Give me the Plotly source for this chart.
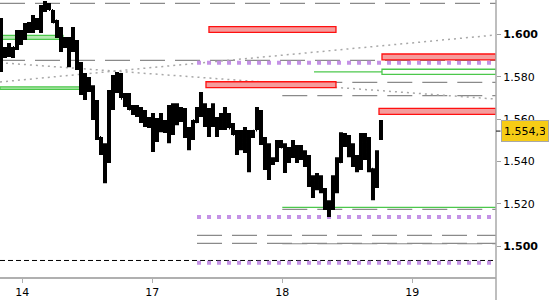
import plotly.graph_objects as go

# ---------------- data ----------------
# intraday bars on a regular session grid (day units, 14 -> 0, 17 -> 1, 18 -> 2, 19 -> 3)
BARS_PER_DAY = 32.5
FIRST_BAR = -0.1638

highs = [1.6077, 1.5940, 1.5959, 1.5940, 1.6020, 1.6020, 1.6053, 1.6058, 1.6091, 1.6077,
         1.6138, 1.6157, 1.6148, 1.6115, 1.6068, 1.6034, 1.5987, 1.5987, 1.6034, 1.5973,
         1.5869, 1.5817, 1.5798, 1.5760, 1.5690, 1.5515, 1.5486, 1.5737, 1.5808, 1.5822,
         1.5817, 1.5723, 1.5723, 1.5666, 1.5666, 1.5657, 1.5642, 1.5609, 1.5628, 1.5605,
         1.5628, 1.5595, 1.5666, 1.5675, 1.5675, 1.5657, 1.5652, 1.5562, 1.5595, 1.5657,
         1.5727, 1.5675, 1.5652, 1.5675, 1.5609, 1.5628, 1.5657, 1.5628, 1.5581, 1.5548,
         1.5548, 1.5562, 1.5548, 1.5548, 1.5657, 1.5642, 1.5515, 1.5486, 1.5420, 1.5501,
         1.5501, 1.5486, 1.5468, 1.5501, 1.5477, 1.5477, 1.5453, 1.5430, 1.5335, 1.5345,
         1.5335, 1.5274, 1.5217, 1.5335, 1.5420, 1.5538, 1.5534, 1.5524, 1.5486, 1.5430,
         1.5534, 1.5534, 1.5515, 1.5368, 1.5453, 1.5595]
lows = [1.5822, 1.5888, 1.5893, 1.5888, 1.5926, 1.5949, 1.5973, 1.6006, 1.6006, 1.6020,
        1.6006, 1.6105, 1.6115, 1.6053, 1.5982, 1.5916, 1.5935, 1.5845, 1.5916, 1.5831,
        1.5713, 1.5690, 1.5727, 1.5595, 1.5501, 1.5430, 1.5297, 1.5392, 1.5642, 1.5723,
        1.5699, 1.5657, 1.5642, 1.5619, 1.5609, 1.5581, 1.5562, 1.5557, 1.5444, 1.5491,
        1.5538, 1.5534, 1.5486, 1.5524, 1.5571, 1.5586, 1.5510, 1.5453, 1.5501, 1.5581,
        1.5609, 1.5562, 1.5515, 1.5562, 1.5515, 1.5548, 1.5548, 1.5557, 1.5524, 1.5430,
        1.5453, 1.5439, 1.5349, 1.5510, 1.5548, 1.5477, 1.5359, 1.5312, 1.5383, 1.5397,
        1.5463, 1.5345, 1.5392, 1.5416, 1.5392, 1.5406, 1.5373, 1.5279, 1.5227, 1.5264,
        1.5250, 1.5170, 1.5137, 1.5170, 1.5250, 1.5392, 1.5468, 1.5420, 1.5373, 1.5349,
        1.5359, 1.5406, 1.5349, 1.5217, 1.5274, 1.5501]
closes = [1.5900, 1.5920, 1.5905, 1.5935, 1.5990, 1.6010, 1.6030, 1.6040, 1.6050, 1.6060,
          1.6120, 1.6130, 1.6120, 1.6060, 1.6000, 1.5950, 1.5960, 1.5940, 1.5950, 1.5850,
          1.5760, 1.5760, 1.5740, 1.5640, 1.5510, 1.5460, 1.5420, 1.5700, 1.5760, 1.5760,
          1.5700, 1.5680, 1.5650, 1.5630, 1.5620, 1.5600, 1.5580, 1.5570, 1.5540, 1.5560,
          1.5560, 1.5550, 1.5600, 1.5620, 1.5600, 1.5620, 1.5520, 1.5530, 1.5590, 1.5640,
          1.5640, 1.5600, 1.5600, 1.5580, 1.5570, 1.5580, 1.5590, 1.5560, 1.5530, 1.5480,
          1.5500, 1.5500, 1.5520, 1.5540, 1.5600, 1.5500, 1.5420, 1.5400, 1.5410, 1.5480,
          1.5470, 1.5430, 1.5440, 1.5430, 1.5440, 1.5420, 1.5400, 1.5300, 1.5300, 1.5290,
          1.5260, 1.5200, 1.5180, 1.5320, 1.5400, 1.5500, 1.5490, 1.5450, 1.5400, 1.5420,
          1.5500, 1.5450, 1.5370, 1.5300, 1.5440, 1.5543]
opens = [1.5950, 1.5900, 1.5920, 1.5905, 1.5935, 1.5990, 1.6010, 1.6030, 1.6040, 1.6050,
         1.6060, 1.6120, 1.6130, 1.6110, 1.6060, 1.6000, 1.5950, 1.5960, 1.5940, 1.5950,
         1.5850, 1.5760, 1.5760, 1.5740, 1.5640, 1.5510, 1.5460, 1.5420, 1.5700, 1.5760,
         1.5760, 1.5700, 1.5680, 1.5650, 1.5630, 1.5620, 1.5600, 1.5580, 1.5570, 1.5540,
         1.5560, 1.5560, 1.5550, 1.5600, 1.5620, 1.5600, 1.5620, 1.5520, 1.5530, 1.5590,
         1.5640, 1.5640, 1.5600, 1.5600, 1.5580, 1.5570, 1.5580, 1.5590, 1.5560, 1.5530,
         1.5480, 1.5500, 1.5500, 1.5520, 1.5550, 1.5600, 1.5500, 1.5420, 1.5400, 1.5410,
         1.5480, 1.5470, 1.5430, 1.5440, 1.5430, 1.5440, 1.5420, 1.5400, 1.5300, 1.5300,
         1.5290, 1.5260, 1.5200, 1.5180, 1.5320, 1.5400, 1.5500, 1.5490, 1.5450, 1.5400,
         1.5420, 1.5500, 1.5450, 1.5360, 1.5300, 1.5510]

day_ticks = [0, 1, 2, 3]
day_labels = ["14", "17", "18", "19"]
price_ticks = [1.500, 1.520, 1.540, 1.560, 1.580, 1.600]
price_labels = ["<b>1.500</b>", "1.520", "1.540", "1.560", "1.580", "<b>1.600</b>"]

X_MIN, X_MAX = -0.1715, 3.644
Y_MIN, Y_MAX = 1.4854, 1.6162

# horizontal levels
gray_levels = [1.6146, 1.5877, 1.5773, 1.5710, 1.5173, 1.5051, 1.5013, 1.5011]
gray_starts = [X_MIN, X_MIN, 2.0, 2.0, 2.0, 1.344, 1.344, 2.0]
purple_levels = [1.5866, 1.5137, 1.4921]
purple_start = 1.344
black_level = 1.4932
red_lo = [1.6009, 1.5748, 1.5879, 1.5622]
red_hi = [1.6036, 1.5776, 1.5907, 1.5650]
red_x0 = [1.436, 1.413, 2.767, 2.744]
red_x1 = [2.413, 2.413, X_MAX, X_MAX]
green_lo = [1.5976, 1.5740, 1.5811]
green_hi = [1.5995, 1.5752, 1.5835]
green_x0 = [X_MIN, X_MIN, 2.767]
green_x1 = [0.313, 0.49, X_MAX]
green_fill = ["#b4e8b0", "#b4e8b0", "rgba(0,0,0,0)"]
green_lines = [1.5823, 1.5183]
green_lines_x0 = [2.244, 2.0]
green_lines_x1 = [2.767, X_MAX]
trend_start = [1.5866, 1.5775]
trend_end = [1.5694, 1.5997]
last_price = 1.5543
last_label = "1.554,3"

# ---------------- figure ----------------
bar_x = [FIRST_BAR + i / BARS_PER_DAY for i in range(len(highs))]

fig = go.Figure()
fig.add_trace(go.Ohlc(
    x=bar_x, open=opens, high=highs, low=lows, close=closes,
    increasing=dict(line=dict(color="black", width=4)),
    decreasing=dict(line=dict(color="black", width=4)),
    tickwidth=0.25, hoverinfo="skip", showlegend=False,
))

shapes = []
for lv, xs in zip(gray_levels, gray_starts):
    shapes.append(dict(type="line", xref="x", yref="y", x0=xs, x1=X_MAX, y0=lv, y1=lv,
                       line=dict(color="#8a8a8a", width=1.2, dash="25px,10px"), layer="below"))
shapes.append(dict(type="line", xref="x", yref="y", x0=X_MIN, x1=X_MAX, y0=black_level, y1=black_level,
                   line=dict(color="black", width=1, dash="5px,3px"), layer="below"))
for a, b in zip(trend_start, trend_end):
    shapes.append(dict(type="line", xref="x", yref="y", x0=X_MIN, x1=X_MAX, y0=a, y1=b,
                       line=dict(color="#a8a8a8", width=1.5, dash="2px,4px"), layer="below"))
for lv in purple_levels:
    shapes.append(dict(type="line", xref="x", yref="y", x0=purple_start, x1=X_MAX, y0=lv, y1=lv,
                       line=dict(color="#c592e6", width=4, dash="4px,6px"), layer="below"))
for lo, hi, x0, x1 in zip(red_lo, red_hi, red_x0, red_x1):
    shapes.append(dict(type="rect", xref="x", yref="y", x0=x0, x1=x1, y0=lo, y1=hi,
                       fillcolor="#f59c9c", line=dict(color="#ff1010", width=1.3), layer="below"))
for lo, hi, x0, x1, fc in zip(green_lo, green_hi, green_x0, green_x1, green_fill):
    shapes.append(dict(type="rect", xref="x", yref="y", x0=x0, x1=x1, y0=lo, y1=hi,
                       fillcolor=fc, line=dict(color="#4cc84c", width=1.3), layer="below"))
for lv, x0, x1 in zip(green_lines, green_lines_x0, green_lines_x1):
    shapes.append(dict(type="line", xref="x", yref="y", x0=x0, x1=x1, y0=lv, y1=lv,
                       line=dict(color="#4cc84c", width=1.3), layer="below"))
# right axis line extends to the bottom of the picture
shapes.append(dict(type="line", xref="paper", yref="paper", x0=1, x1=1, y0=-0.2, y1=1,
                   line=dict(color="#a8a8a8", width=1.5)))
# marker tick for last price
shapes.append(dict(type="line", xref="paper", yref="y", x0=1.0, x1=1.009, y0=last_price, y1=last_price,
                   line=dict(color="#333333", width=1.2)))

fig.update_layout(
    width=550, height=300,
    margin=dict(l=0, r=54, t=0, b=23),
    paper_bgcolor="white", plot_bgcolor="white",
    font=dict(family="DejaVu Sans", size=11, color="black"),
    shapes=shapes,
    showlegend=False,
    xaxis=dict(range=[X_MIN, X_MAX], tickvals=day_ticks, ticktext=day_labels,
               showgrid=False, zeroline=False, showline=True, linecolor="#b0b0b0", linewidth=1.5,
               ticks="outside", ticklen=4, tickcolor="#b0b0b0", rangeslider=dict(visible=False),
               fixedrange=True),
    yaxis=dict(range=[Y_MIN, Y_MAX], side="right", tickvals=price_ticks, ticktext=price_labels,
               showgrid=False, zeroline=False, showline=False,
               ticks="outside", ticklen=4, tickcolor="#a0a0a0", fixedrange=True),
    annotations=[dict(xref="paper", yref="y", x=1, y=last_price, xanchor="left", yanchor="middle",
                      xshift=5, text=last_label, showarrow=False,
                      font=dict(family="DejaVu Sans", size=11, color="black"),
                      bgcolor="#f6cc16", bordercolor="#a8a8a8", borderwidth=1, borderpad=3,
                      width=40, height=14)],
)

fig.write_html("out.html")
